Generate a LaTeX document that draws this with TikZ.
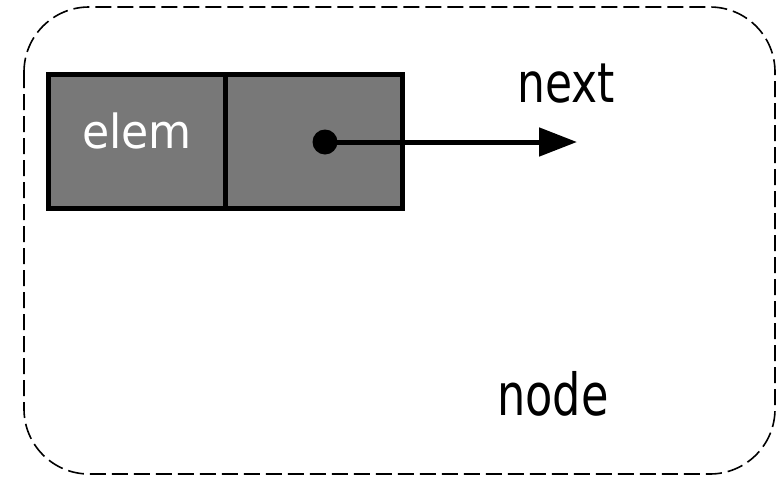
\documentclass[tikz,border=0pt]{standalone}
\usepackage{fontspec}
\setmainfont{DejaVu Sans}
\usetikzlibrary{arrows.meta,positioning}
\definecolor{cellgray}{HTML}{787878}
\newcommand{\narrowtext}[2]{\scalebox{#1}[1]{#2}}

\begin{document}
\begin{tikzpicture}[x=1pt,y=-1pt,
	cell/.style={draw,line width=5pt,fill=cellgray,outer sep=0pt,inner sep=0pt,minimum height=133.5pt},
	lbl/.style={font=\fontsize{#1}{#1}\selectfont,anchor=base,inner sep=0pt}]
	\useasboundingbox (0,0) rectangle (777,477);
	
	% outer dashed frame
	\draw[line width=1.6pt,dash pattern=on 16pt off 6pt,rounded corners=65pt] (24,7) rectangle (775,474);
	
	% the two cells
	\node[cell,minimum width=177pt] (elemcell) at (137,141.25) {};
	\node[cell,minimum width=176.5pt,right=0pt of elemcell] (nextcell) {};
	
	% pointer
	\node[circle,fill,inner sep=0pt,minimum size=25pt] (ptr) at (325,142) {};
	\coordinate (tip) at (577,142);
	\draw[line width=5pt,-{Triangle[length=38pt,width=28pt]}] (ptr.center) -- (tip);
	
	\node[lbl=47,text=white] (elemlbl) at (137,148) {\narrowtext{0.94}{elem}};
	\node[lbl=55] (nextlbl) at (566,102) {\narrowtext{0.8}{next}};
	\node[lbl=58] (nodelbl) at (553,415) {\narrowtext{0.77}{node}};
\end{tikzpicture}
\end{document}
